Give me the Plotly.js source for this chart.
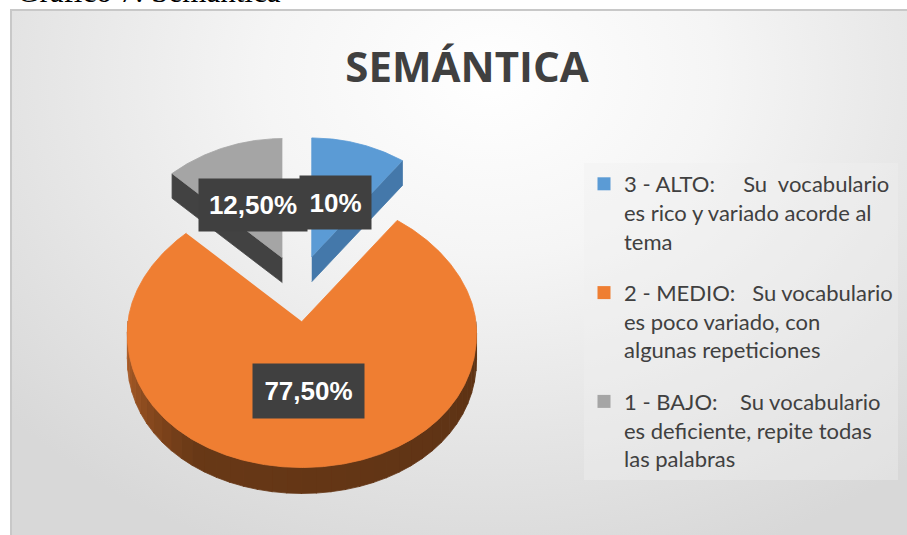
<!DOCTYPE html>
<html><head><meta charset="utf-8">
<script src="https://cdn.plot.ly/plotly-3.0.1.min.js"></script>
<style>
html,body{margin:0;padding:0;background:#fff;width:907px;height:535px;overflow:hidden;}
#frame{position:absolute;left:10px;top:9px;width:920px;height:540px;border-left:2px solid #c8c8c8;border-top:2px solid #c8c8c8;
background:radial-gradient(ellipse 70% 95% at 52% 12%, #ffffff 0%, #f5f5f5 35%, #e3e3e3 75%, #d8d8d8 100%);}
#chart{position:absolute;left:0;top:0;width:907px;height:535px;}
</style></head><body>
<div id="frame"></div><div id="chart"></div>
<script>
// ---- data ----
const categories = ['3 - ALTO', '2 - MEDIO', '1 - BAJO'];
const descriptions = [
  'Su\u00a0\u00a0vocabulario<br>es rico y variado acorde al<br>tema',
  'Su vocabulario<br>es poco variado, con<br>algunas repeticiones',
  'Su vocabulario<br>es deficiente, repite todas<br>las palabras'
];
const gaps = ['\u00a0'.repeat(5), '\u00a0'.repeat(3), '\u00a0'.repeat(4)];
const values = [10, 77.5, 12.5];
const valueLabels = ['10%', '77,50%', '12,50%'];

// ---- style ----
const topColors = ['#5b9bd5', '#ef7e32', '#a5a5a5'];
const wallColors = ['#4478aa', null, '#424242'];
const CX0 = 298.6, CY0 = 286, RX = 174, RYT = 125, RYB = 146, DEPTH = 26, PULL = 0.244, PERSP = 0.085;

function proj(ax, ay, s, th, r, dz) {
  const c = Math.cos(th), sn = Math.sin(th);
  const x = ax + s * RX * r * sn * (1 - PERSP * c * r);
  const y = ay - s * (c > 0 ? RYT : RYB) * r * c + s * dz;
  return [x, y];
}
function poly(pts, color) {
  return {type: 'scatter', mode: 'lines', x: pts.map(p => p[0]), y: pts.map(p => p[1]),
    fill: 'toself', fillcolor: color, line: {color: color, width: 0.8},
    hoverinfo: 'skip', showlegend: false};
}
function arc(ax, ay, s, t0, t1, dz) {
  const n = Math.max(2, Math.ceil(Math.abs(t1 - t0) / (Math.PI / 360)));
  const out = [];
  for (let k = 0; k <= n; k++) out.push(proj(ax, ay, s, t0 + (t1 - t0) * k / n, 1, dz));
  return out;
}
function lerp(a, b, t) { return a.map((v, i) => Math.round(v + (b[i] - v) * t)); }

const total = values.reduce((a, b) => a + b, 0);
let cum = 0;
const slices = values.map((v, i) => {
  const a0 = cum / total * 2 * Math.PI; cum += v;
  const a1 = cum / total * 2 * Math.PI;
  const mid = (a0 + a1) / 2;
  const cm = Math.cos(mid);
  const ax = CX0 + RX * Math.sin(mid) * PULL;
  const ay = CY0 - cm * PULL * (cm > 0 ? RYT : RYB);
  const s = 1 - 0.05 * Math.max(0, cm);
  return {i, a0, a1, mid, ax, ay, s};
});

const traces = [];
const order = slices.slice().sort((p, q) => p.ay - q.ay);
order.forEach(sl => {
  const {i, a0, a1, ax, ay, s} = sl;
  if (Math.sin(a0) < -1e-6) {
    const p1 = proj(ax, ay, s, a0, 1, 0), p2 = proj(ax, ay, s, a0, 1, DEPTH);
    traces.push(poly([[ax, ay], p1, p2, [ax, ay + s * DEPTH]], wallColors[i] || '#6a3816'));
  }
  if (Math.sin(a1) > 1e-6) {
    const p1 = proj(ax, ay, s, a1, 1, 0), p2 = proj(ax, ay, s, a1, 1, DEPTH);
    traces.push(poly([[ax, ay], p1, p2, [ax, ay + s * DEPTH]], wallColors[i] || '#6a3816'));
  }
  const t0 = Math.max(a0, Math.PI / 2), t1 = Math.min(a1, 3 * Math.PI / 2);
  if (t1 > t0) {
    const segs = 40;
    for (let k = 0; k < segs; k++) {
      const u0 = t0 + (t1 - t0) * k / segs, u1 = t0 + (t1 - t0) * (k + 1) / segs + 0.004;
      let col;
      if (wallColors[i]) col = wallColors[i];
      else {
        const deg = (u0 + u1) / 2 * 180 / Math.PI;
        let c;
        if (deg > 215) c = lerp([104, 56, 22], [182, 98, 42], (deg - 215) / 55);
        else c = lerp([92, 50, 20], [104, 56, 22], (deg - 90) / 125);
        col = 'rgb(' + c.join(',') + ')';
      }
      const top = arc(ax, ay, s, u0, u1, 0);
      const bot = arc(ax, ay, s, u1, u0, DEPTH);
      traces.push(poly(top.concat(bot), col));
    }
  }
  traces.push(poly([[ax, ay]].concat(arc(ax, ay, s, a0, a1, 0)), topColors[i]));
});

categories.forEach((c, i) => {
  traces.push({type: 'scatter', mode: 'markers', x: [null], y: [null],
    name: c + ':' + gaps[i] + descriptions[i], legendgroup: 'g' + i,
    marker: {symbol: 'square', size: 13, color: topColors[i]}, hoverinfo: 'skip'});
});

const annotations = slices.map(sl => {
  const p = proj(sl.ax, sl.ay, sl.s, sl.mid, 0.48, 0);
  const w = [71, 111, 108][sl.i], h = [53, 54, 52][sl.i];
  return {x: p[0], y: p[1], xref: 'x', yref: 'y', text: valueLabels[sl.i], showarrow: false,
    bgcolor: '#404040', width: w, height: h, borderpad: 0,
    font: {family: 'Liberation Sans, Arial, sans-serif', size: 26, color: '#ffffff', weight: 'bold'}};
});
annotations.push({xref: 'paper', yref: 'paper', x: 15 / 907, y: 1 - 10.5 / 535, xanchor: 'left', yanchor: 'bottom',
  text: 'Gráfico 7: Semántica', showarrow: false,
  font: {family: 'Liberation Serif, Times New Roman, serif', size: 31, color: '#000'}});

const layout = {
  width: 907, height: 535, margin: {l: 0, r: 0, t: 0, b: 0},
  paper_bgcolor: 'rgba(0,0,0,0)', plot_bgcolor: 'rgba(0,0,0,0)',
  xaxis: {range: [0, 907], visible: false, fixedrange: true},
  yaxis: {range: [535, 0], visible: false, fixedrange: true},
  title: {text: 'SEMÁNTICA', x: 467 / 907, xanchor: 'center', y: 1 - 67 / 535, yanchor: 'middle', yref: 'container',
    font: {family: 'Open Sans, sans-serif', size: 42, color: '#404040', weight: 'bold'}},
  showlegend: true,
  legend: {x: 584 / 907, y: 1 - 163 / 535, xanchor: 'left', yanchor: 'top', valign: 'top',
    bgcolor: 'rgba(240,240,240,0.4)', tracegroupgap: 20, traceorder: 'grouped',
    font: {family: 'Lato, sans-serif', size: 22, color: '#404040'}},
  annotations: annotations
};
Plotly.newPlot('chart', traces, layout, {displayModeBar: false, staticPlot: true});
</script>
</body></html>
